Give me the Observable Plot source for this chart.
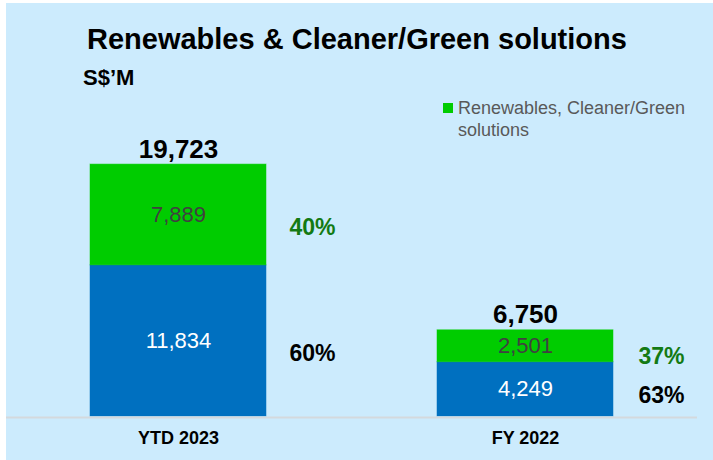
<!DOCTYPE html>
<html>
<head>
<meta charset="utf-8">
<script src="https://cdn.jsdelivr.net/npm/d3@7"></script>
<script src="https://cdn.jsdelivr.net/npm/@observablehq/plot@0.6"></script>
<style>
  html, body { margin: 0; padding: 0; background: #ffffff; }
  #wrap { position: relative; width: 713px; height: 460px; overflow: hidden; font-family: "Liberation Sans", Arial, sans-serif; background: #ffffff; }
  #panel { position: absolute; left: 6px; top: 3px; right: 0; bottom: 0; background: #CCEBFD; }
  #chart { position: absolute; left: 0; top: 0; }
  #title { position: absolute; left: 87px; top: 25px; font-size: 29px; line-height: 29px; font-weight: bold; color: #000; white-space: nowrap; }
  #unit { position: absolute; left: 83px; top: 67px; font-size: 22px; line-height: 22px; font-weight: bold; color: #000; }
  #legend { position: absolute; left: 443px; top: 97px; font-size: 18px; line-height: 22px; color: #595959; }
  #legend .sw { position: absolute; left: 0; top: 6px; width: 10px; height: 10px; background: #00CC00; }
  #legend .lb { margin-left: 15px; width: 260px; }
</style>
</head>
<body>
<div id="wrap">
  <div id="panel"></div>
  <div id="chart"></div>
  <div id="title"></div>
  <div id="unit"></div>
  <div id="legend"><div class="sw"></div><div class="lb"></div></div>
</div>
<script>
const titleText = "Renewables & Cleaner/Green solutions";
const unitText = "S$’M";
const legendLines = ["Renewables, Cleaner/Green", "solutions"];

const categories = ["YTD 2023", "FY 2022"];
const seriesNames = ["Other", "Renewables, Cleaner/Green solutions"];
const otherValues = [11834, 4249];
const renewableValues = [7889, 2501];
const totalValues = [19723, 6750];
const otherPctLabels = ["60%", "63%"];
const renewablePctLabels = ["40%", "37%"];

document.getElementById("title").textContent = titleText;
document.getElementById("unit").textContent = unitText;
document.querySelector("#legend .lb").innerHTML = legendLines.join("<br>");

const rows = [];
categories.forEach((c, i) => {
  rows.push({cat: c, series: seriesNames[0], value: otherValues[i], pct: otherPctLabels[i], idx: i});
  rows.push({cat: c, series: seriesNames[1], value: renewableValues[i], pct: renewablePctLabels[i], idx: i});
});
const totals = categories.map((c, i) => ({cat: c, total: totalValues[i]}));

const fmt = d3.format(",");
const BLUE = "#0070C0", GREEN = "#00CC00";
const font = "'Liberation Sans', Arial, sans-serif";
const isOther = d => d.series === seriesNames[0];

const stack = (o) => Plot.stackY({x: "cat", y: "value", order: null, ...o});
const pctText = (cond) => d => cond(d) ? d.pct : "";

const chart = Plot.plot({
  width: 713,
  height: 460,
  marginLeft: 6,
  marginRight: 16,
  marginTop: 135,
  marginBottom: 44,
  style: {background: "transparent", fontFamily: font, overflow: "visible"},
  x: {domain: categories, paddingInner: 0.4928, paddingOuter: 0.242, label: null},
  y: {domain: [0, 22000], axis: null},
  color: {domain: seriesNames, range: [BLUE, GREEN]},
  marks: [
    Plot.barY(rows, stack({fill: "series", stroke: "series", strokeOpacity: 0.5, strokeWidth: 1})),
    Plot.ruleY([0], {stroke: "#D4D9DD", strokeWidth: 2, dy: 1}),
    Plot.text(rows, stack({
      text: d => fmt(d.value),
      fill: d => isOther(d) ? "#ffffff" : "#404040",
      fontSize: 22
    })),
    Plot.text(totals, {x: "cat", y: "total", text: d => fmt(d.total), fontSize: 26, fontWeight: "bold", fill: "#000", lineAnchor: "bottom", dy: -7}),
    // YTD 2023 percentages
    Plot.text(rows, stack({
      text: pctText(d => d.idx === 0), dx: 134, dy: 13, fontSize: 23, fontWeight: "bold",
      fill: d => isOther(d) ? "#000000" : "#137A13"
    })),
    // FY 2022 renewables percentage
    Plot.text(rows, stack({
      text: pctText(d => d.idx === 1 && !isOther(d)), dx: 136, dy: 10, fontSize: 23, fontWeight: "bold", fill: "#137A13"
    })),
    // FY 2022 other percentage
    Plot.text(rows, stack({
      text: pctText(d => d.idx === 1 && isOther(d)), dx: 136, dy: 6, fontSize: 23, fontWeight: "bold", fill: "#000000"
    })),
    Plot.axisX({tickSize: 0, tickPadding: 15, fontSize: 18, fontWeight: "bold", fill: "#000", label: null})
  ]
});
document.getElementById("chart").appendChild(chart);
</script>
</body>
</html>
